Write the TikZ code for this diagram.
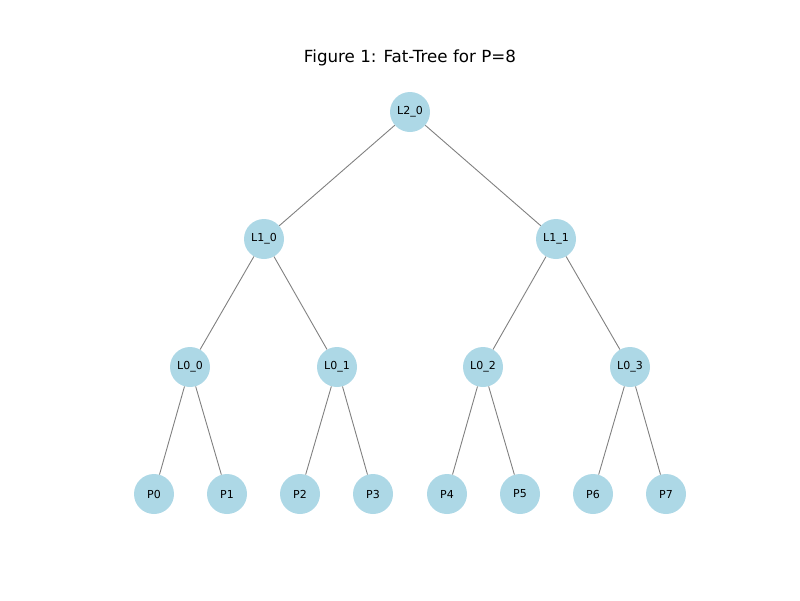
\documentclass[tikz,border=0pt]{standalone}
\usepackage{fontspec}
\setmainfont{DejaVu Sans}
\definecolor{lblue}{HTML}{ADD8E6}
\definecolor{edgegray}{HTML}{808080}
\begin{document}
\begin{tikzpicture}[x=1pt,y=-1pt,
  treenode/.style={circle,fill=lblue,minimum size=40pt,inner sep=0pt,font=\fontsize{11}{13}\selectfont},
  edge/.style={draw=edgegray,line width=0.9pt}]
\useasboundingbox (0,0) rectangle (800,600);
\node[font=\fontsize{16.7}{20}\selectfont] (title) at (410,58) {Figure 1: Fat-Tree for P=8};
\node[treenode] (L20) at (410,112) {L2\_0};
\node[treenode] (L10) at (264,239) {L1\_0};
\node[treenode] (L11) at (556,239) {L1\_1};
\node[treenode] (L00) at (190,367) {L0\_0};
\node[treenode] (L01) at (337,367) {L0\_1};
\node[treenode] (L02) at (483,367) {L0\_2};
\node[treenode] (L03) at (630,367) {L0\_3};
\node[treenode] (P0) at (154,494) {P0};
\node[treenode] (P1) at (227,494) {P1};
\node[treenode] (P2) at (300,494) {P2};
\node[treenode] (P3) at (373,494) {P3};
\node[treenode] (P4) at (447,494) {P4};
\node[treenode] (P5) at (520,494) {P5};
\node[treenode] (P6) at (593,494) {P6};
\node[treenode] (P7) at (666,494) {P7};
\draw[edge] (L20) -- (L10);
\draw[edge] (L20) -- (L11);
\draw[edge] (L10) -- (L00);
\draw[edge] (L10) -- (L01);
\draw[edge] (L11) -- (L02);
\draw[edge] (L11) -- (L03);
\draw[edge] (L00) -- (P0);
\draw[edge] (L00) -- (P1);
\draw[edge] (L01) -- (P2);
\draw[edge] (L01) -- (P3);
\draw[edge] (L02) -- (P4);
\draw[edge] (L02) -- (P5);
\draw[edge] (L03) -- (P6);
\draw[edge] (L03) -- (P7);
\end{tikzpicture}
\end{document}
